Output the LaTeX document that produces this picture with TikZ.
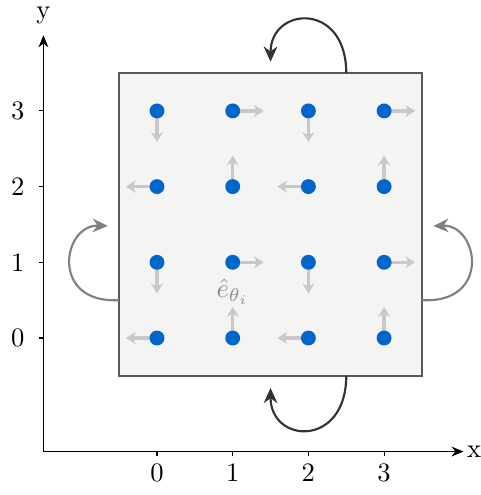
\documentclass[tikz,border=0pt]{standalone}
\usepackage{amsmath,amssymb}
\usetikzlibrary{arrows.meta,positioning,calc}
\definecolor{spinblue}{HTML}{0066CC}
\definecolor{cellfill}{HTML}{F4F4F3}
\definecolor{vecgray}{HTML}{C8C8C8}
\tikzset{
  site/.style={circle, fill=spinblue, minimum size=5.6pt, inner sep=0pt},
  spin vec/.style={-{Stealth[length=1.3mm,width=1.6mm]}, vecgray, line width=1.3pt},
  axis arrow/.style={-{Stealth[length=1.6mm,width=1.3mm]}, black, line width=.4pt},
  pbc arrow/.style={-{Stealth[length=2mm,width=1.8mm]}, line width=.8pt},
  tick/.style={black, line width=.4pt},
}
\begin{document}
\begin{tikzpicture}[x=1cm,y=1cm]
  \useasboundingbox (-2.074,-2.074) rectangle (4.28,4.465);

  % axes
  \coordinate (o) at (-1.5,-1.5);
  \coordinate (xend) at (4.05,-1.5);
  \coordinate (yend) at (-1.5,4.0);
  \draw[axis arrow] (o)--(xend);
  \draw[axis arrow] (o)--(yend);
  \node[inner sep=1pt] (xlab) at (4.19,-1.5) {x};
  \node[inner sep=1pt] (ylab) at (-1.5,4.26) {y};
  \foreach \k in {0,...,3} {
    \draw[tick] (\k,-1.5)--(\k,-1.56);
    \node (xt\k) at (\k,-1.78) {\k};
    \draw[tick] (-1.5,\k)--(-1.56,\k);
    \node (yt\k) at (-1.84,\k) {\k};
  }

  % simulation cell
  \draw[fill=cellfill,draw=black!65,line width=.6pt] (-.5,-.5) rectangle (3.5,3.5);

  % periodic boundary arrows
  \coordinate (tA) at (2.5,3.5);  \coordinate (tB) at (1.5,3.65);
  \coordinate (bA) at (2.5,-.5);  \coordinate (bB) at (1.5,-.66);
  \coordinate (lA) at (-.5,.5);   \coordinate (lB) at (-.65,1.48);
  \coordinate (rA) at (3.5,.5);   \coordinate (rB) at (3.65,1.48);
  \draw[pbc arrow,black!80] (tA) .. controls (2.5,4.45) and (1.5,4.38) .. (tB);
  \draw[pbc arrow,black!80] (bA) .. controls (2.5,-1.45) and (1.5,-1.4) .. (bB);
  \draw[pbc arrow,black!50] (lA) .. controls (-1.42,.45) and (-1.25,1.5) .. (lB);
  \draw[pbc arrow,black!50] (rA) .. controls (4.42,.45) and (4.25,1.5) .. (rB);

  % spin directions on the lattice
  \foreach \x/\y/\ang in {0/3/-90,1/3/0,2/3/-90,3/3/0,
                          0/2/180,1/2/90,2/2/180,3/2/90,
                          0/1/-90,1/1/0,2/1/-90,3/1/0,
                          0/0/180,1/0/90,2/0/180,3/0/90} {
    \coordinate (s\x\y) at (\x,\y);
    \draw[spin vec] (s\x\y) -- ++(\ang:.41);
  }
  \foreach \x in {0,...,3}
    \foreach \y in {0,...,3}
      \node[site] (p\x\y) at (s\x\y) {};

  \node[text=black!45] (elab) at (1,.61) {$\hat{e}_{\theta_i}$};
\end{tikzpicture}
\end{document}
